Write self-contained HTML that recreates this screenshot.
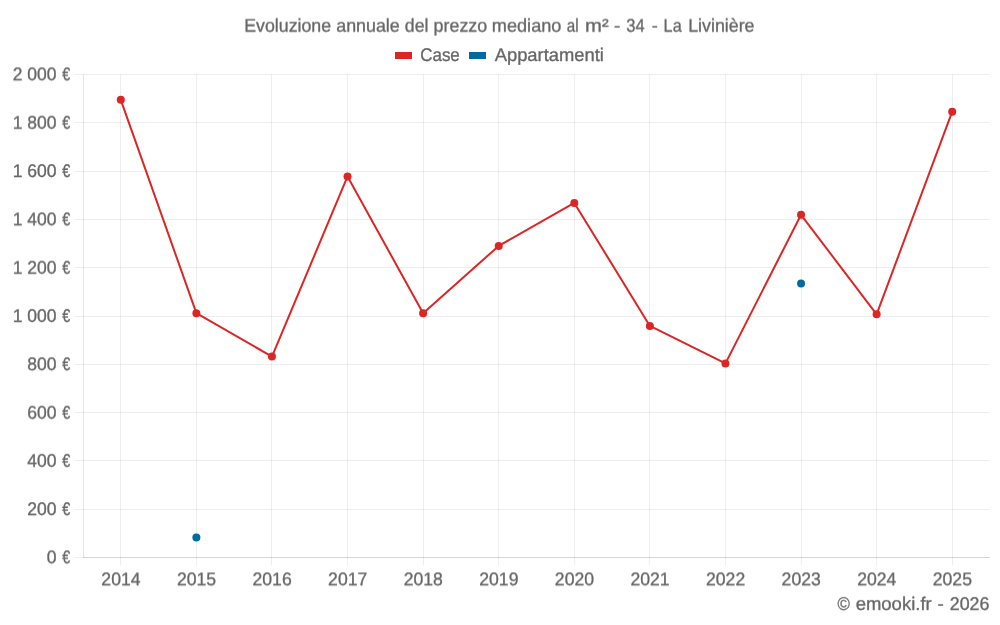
<!DOCTYPE html>
<html lang="it">
<head>
<meta charset="utf-8">
<title>Evoluzione annuale del prezzo mediano al m² - 34 - La Livinière</title>
<style>
html,body{margin:0;padding:0;background:#fff;}
body{width:1000px;height:625px;overflow:hidden;}
svg{display:block;}
text{font-family:"Liberation Sans",sans-serif;font-size:18.3px;fill:#666666;text-rendering:geometricPrecision;stroke:#666666;stroke-width:0.32px;stroke-linejoin:round;}
.tx{filter:grayscale(1);}
</style>
</head>
<body>
<svg width="1000" height="625" viewBox="0 0 1000 625">
<defs>
<filter id="s7" filterUnits="userSpaceOnUse" x="0" y="0" width="1000" height="625" color-interpolation-filters="sRGB"><feConvolveMatrix order="1 2" kernelMatrix="0.3 0.7" targetX="0" targetY="0" divisor="1" edgeMode="none" preserveAlpha="false"/></filter>
<filter id="s13" filterUnits="userSpaceOnUse" x="0" y="0" width="1000" height="625" color-interpolation-filters="sRGB"><feConvolveMatrix order="1 2" kernelMatrix="0.7 0.3" targetX="0" targetY="1" divisor="1" edgeMode="none" preserveAlpha="false"/></filter>
<filter id="s9" filterUnits="userSpaceOnUse" x="0" y="0" width="1000" height="625" color-interpolation-filters="sRGB"><feConvolveMatrix order="1 2" kernelMatrix="0.1 0.9" targetX="0" targetY="0" divisor="1" edgeMode="none" preserveAlpha="false"/></filter>
<filter id="s12" filterUnits="userSpaceOnUse" x="0" y="0" width="1000" height="625" color-interpolation-filters="sRGB"><feConvolveMatrix order="1 2" kernelMatrix="0.8 0.2" targetX="0" targetY="1" divisor="1" edgeMode="none" preserveAlpha="false"/></filter>
<filter id="s8" filterUnits="userSpaceOnUse" x="0" y="0" width="1000" height="625" color-interpolation-filters="sRGB"><feConvolveMatrix order="1 2" kernelMatrix="0.2 0.8" targetX="0" targetY="0" divisor="1" edgeMode="none" preserveAlpha="false"/></filter>
<filter id="s11" filterUnits="userSpaceOnUse" x="0" y="0" width="1000" height="625" color-interpolation-filters="sRGB"><feConvolveMatrix order="1 2" kernelMatrix="0.9 0.1" targetX="0" targetY="1" divisor="1" edgeMode="none" preserveAlpha="false"/></filter>
</defs>
<rect width="1000" height="625" fill="#ffffff"/>
<g shape-rendering="crispEdges" stroke="rgba(0,0,0,0.067)" stroke-width="1" fill="none">
<line x1="75" y1="74.5" x2="990" y2="74.5"/>
<line x1="75" y1="122.5" x2="990" y2="122.5"/>
<line x1="75" y1="171.5" x2="990" y2="171.5"/>
<line x1="75" y1="219.5" x2="990" y2="219.5"/>
<line x1="75" y1="267.5" x2="990" y2="267.5"/>
<line x1="75" y1="316.5" x2="990" y2="316.5"/>
<line x1="75" y1="364.5" x2="990" y2="364.5"/>
<line x1="75" y1="412.5" x2="990" y2="412.5"/>
<line x1="75" y1="460.5" x2="990" y2="460.5"/>
<line x1="75" y1="509.5" x2="990" y2="509.5"/>
<line x1="75" y1="557.5" x2="990" y2="557.5"/>
</g>
<g fill="rgba(0,0,0,0.067)">
<rect x="120" y="74.5" width="1" height="491"/>
<rect x="196" y="74.5" width="1" height="491"/>
<rect x="271" y="74.5" width="1" height="491"/>
<rect x="347" y="74.5" width="1" height="491"/>
<rect x="423" y="74.5" width="1" height="491"/>
<rect x="498" y="74.5" width="1" height="491"/>
<rect x="574" y="74.5" width="1" height="491"/>
<rect x="649" y="74.5" width="1" height="491"/>
<rect x="725" y="74.5" width="1" height="491"/>
<rect x="801" y="74.5" width="1" height="491"/>
<rect x="876" y="74.5" width="1" height="491"/>
<rect x="952" y="74.5" width="1" height="491"/>
</g>
<rect x="83" y="74.5" width="1" height="483" fill="rgba(0,0,0,0.1)"/>
<line x1="83" y1="557.5" x2="990" y2="557.5" stroke="rgba(0,0,0,0.1)" stroke-width="1" shape-rendering="crispEdges"/>
<rect x="395" y="52" width="17" height="7" fill="#dc2626"/>
<rect x="469" y="52" width="17" height="7" fill="#0369a1"/>
<g class="tx">
<g filter="url(#s7)">
<text y="32"><tspan x="244.23" textLength="86.89" lengthAdjust="spacingAndGlyphs">Evoluzione</tspan> <tspan x="336.21" textLength="63.56" lengthAdjust="spacingAndGlyphs">annuale</tspan> <tspan x="404.81" textLength="23.64" lengthAdjust="spacingAndGlyphs">del</tspan> <tspan x="433.60" textLength="53.56" lengthAdjust="spacingAndGlyphs">prezzo</tspan> <tspan x="491.87" textLength="69.51" lengthAdjust="spacingAndGlyphs">mediano</tspan> <tspan x="566.80" textLength="11.85" lengthAdjust="spacingAndGlyphs">al</tspan> <tspan x="585.06" textLength="23.63" lengthAdjust="spacingAndGlyphs">m²</tspan> <tspan x="614.10" textLength="6.29" lengthAdjust="spacingAndGlyphs">-</tspan> <tspan x="626.27" textLength="18.46" lengthAdjust="spacingAndGlyphs">34</tspan> <tspan x="651.68" textLength="6.03" lengthAdjust="spacingAndGlyphs">-</tspan> <tspan x="663.60" textLength="18.09" lengthAdjust="spacingAndGlyphs">La</tspan> <tspan x="688.15" textLength="66.41" lengthAdjust="spacingAndGlyphs">Livinière</tspan></text>
<text y="129"><tspan x="12.63" textLength="43.86" lengthAdjust="spacingAndGlyphs">1 800</tspan> <tspan x="62.13" textLength="8.01" lengthAdjust="spacingAndGlyphs">€</tspan></text>
<text y="274"><tspan x="12.63" textLength="43.86" lengthAdjust="spacingAndGlyphs">1 200</tspan> <tspan x="62.13" textLength="8.01" lengthAdjust="spacingAndGlyphs">€</tspan></text>
<text y="419"><tspan x="27.23" textLength="29.25" lengthAdjust="spacingAndGlyphs">600</tspan> <tspan x="62.13" textLength="8.01" lengthAdjust="spacingAndGlyphs">€</tspan></text>
</g>
<g>
<text y="61"><tspan x="420.20" textLength="39.63" lengthAdjust="spacingAndGlyphs">Case</tspan></text>
<text y="61"><tspan x="494.67" textLength="109.29" lengthAdjust="spacingAndGlyphs">Appartamenti</tspan></text>
<text y="177"><tspan x="12.63" textLength="43.86" lengthAdjust="spacingAndGlyphs">1 600</tspan> <tspan x="62.13" textLength="8.01" lengthAdjust="spacingAndGlyphs">€</tspan></text>
</g>
<g filter="url(#s13)">
<text y="80"><tspan x="12.63" textLength="43.86" lengthAdjust="spacingAndGlyphs">2 000</tspan> <tspan x="62.13" textLength="8.01" lengthAdjust="spacingAndGlyphs">€</tspan></text>
<text y="225"><tspan x="12.63" textLength="43.86" lengthAdjust="spacingAndGlyphs">1 400</tspan> <tspan x="62.13" textLength="8.01" lengthAdjust="spacingAndGlyphs">€</tspan></text>
<text y="563"><tspan x="46.74" textLength="9.75" lengthAdjust="spacingAndGlyphs">0</tspan> <tspan x="62.13" textLength="8.01" lengthAdjust="spacingAndGlyphs">€</tspan></text>
<text y="585"><tspan x="101.35" textLength="39.19" lengthAdjust="spacingAndGlyphs">2014</tspan></text>
<text y="585"><tspan x="176.93" textLength="39.19" lengthAdjust="spacingAndGlyphs">2015</tspan></text>
<text y="585"><tspan x="252.51" textLength="39.19" lengthAdjust="spacingAndGlyphs">2016</tspan></text>
<text y="585"><tspan x="328.10" textLength="39.19" lengthAdjust="spacingAndGlyphs">2017</tspan></text>
<text y="585"><tspan x="403.68" textLength="39.19" lengthAdjust="spacingAndGlyphs">2018</tspan></text>
<text y="585"><tspan x="479.26" textLength="39.19" lengthAdjust="spacingAndGlyphs">2019</tspan></text>
<text y="585"><tspan x="554.85" textLength="39.19" lengthAdjust="spacingAndGlyphs">2020</tspan></text>
<text y="585"><tspan x="630.43" textLength="39.19" lengthAdjust="spacingAndGlyphs">2021</tspan></text>
<text y="585"><tspan x="706.01" textLength="39.19" lengthAdjust="spacingAndGlyphs">2022</tspan></text>
<text y="585"><tspan x="781.60" textLength="39.19" lengthAdjust="spacingAndGlyphs">2023</tspan></text>
<text y="585"><tspan x="857.18" textLength="39.19" lengthAdjust="spacingAndGlyphs">2024</tspan></text>
<text y="585"><tspan x="932.76" textLength="39.19" lengthAdjust="spacingAndGlyphs">2025</tspan></text>
</g>
<g filter="url(#s9)">
<text y="322"><tspan x="12.63" textLength="43.86" lengthAdjust="spacingAndGlyphs">1 000</tspan> <tspan x="62.13" textLength="8.01" lengthAdjust="spacingAndGlyphs">€</tspan></text>
<text y="610"><tspan x="837.62" textLength="12.34" lengthAdjust="spacingAndGlyphs">©</tspan> <tspan x="855.68" textLength="76.01" lengthAdjust="spacingAndGlyphs">emooki.fr</tspan> <tspan x="937.56" textLength="6.32" lengthAdjust="spacingAndGlyphs">-</tspan> <tspan x="949.75" textLength="39.63" lengthAdjust="spacingAndGlyphs">2026</tspan></text>
</g>
<g filter="url(#s12)">
<text y="370"><tspan x="27.23" textLength="29.25" lengthAdjust="spacingAndGlyphs">800</tspan> <tspan x="62.13" textLength="8.01" lengthAdjust="spacingAndGlyphs">€</tspan></text>
</g>
<g filter="url(#s8)">
<text y="467"><tspan x="27.23" textLength="29.25" lengthAdjust="spacingAndGlyphs">400</tspan> <tspan x="62.13" textLength="8.01" lengthAdjust="spacingAndGlyphs">€</tspan></text>
</g>
<g filter="url(#s11)">
<text y="515"><tspan x="27.23" textLength="29.25" lengthAdjust="spacingAndGlyphs">200</tspan> <tspan x="62.13" textLength="8.01" lengthAdjust="spacingAndGlyphs">€</tspan></text>
</g>
</g>
<polyline points="120.79,99.85 196.38,313.15 271.96,356.60 347.54,176.45 423.12,313.30 498.71,245.90 574.29,202.90 649.88,325.90 725.46,363.40 801.04,214.80 876.62,314.35 952.21,111.70" fill="none" stroke="#dc2626" stroke-width="2" stroke-linejoin="round" stroke-linecap="butt"/>
<circle cx="120.79" cy="99.85" r="4" fill="#dc2626"/>
<circle cx="196.38" cy="313.15" r="4" fill="#dc2626"/>
<circle cx="271.96" cy="356.60" r="4" fill="#dc2626"/>
<circle cx="347.54" cy="176.45" r="4" fill="#dc2626"/>
<circle cx="423.12" cy="313.30" r="4" fill="#dc2626"/>
<circle cx="498.71" cy="245.90" r="4" fill="#dc2626"/>
<circle cx="574.29" cy="202.90" r="4" fill="#dc2626"/>
<circle cx="649.88" cy="325.90" r="4" fill="#dc2626"/>
<circle cx="725.46" cy="363.40" r="4" fill="#dc2626"/>
<circle cx="801.04" cy="214.80" r="4" fill="#dc2626"/>
<circle cx="876.62" cy="314.35" r="4" fill="#dc2626"/>
<circle cx="952.21" cy="111.70" r="4" fill="#dc2626"/>
<circle cx="196.38" cy="537.4" r="4" fill="#0369a1"/>
<circle cx="801.04" cy="283.4" r="4" fill="#0369a1"/>
</svg>
</body>
</html>
